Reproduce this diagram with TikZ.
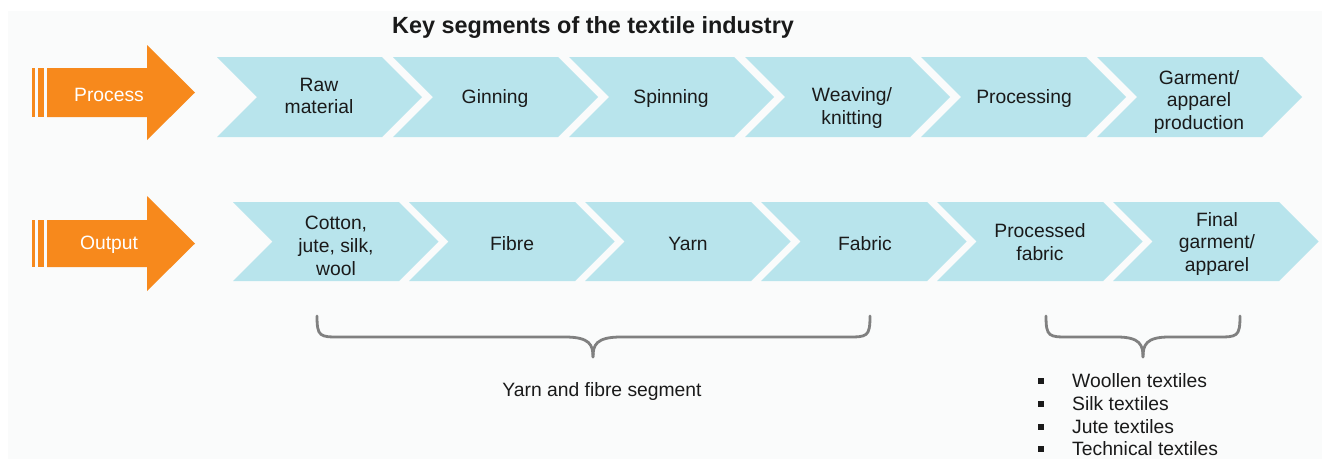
\documentclass[tikz,border=0pt]{standalone}
\usepackage{fontspec}
\setmainfont{Liberation Sans}
\definecolor{bgc}{HTML}{FAFBFB}
\definecolor{orangec}{HTML}{F7891C}
\definecolor{chevc}{HTML}{B8E4EC}
\definecolor{txtc}{HTML}{1A1A1A}
\definecolor{bracec}{HTML}{808080}
\begin{document}
\begin{tikzpicture}[x=1pt,y=-1pt,
  lbl/.style={font=\fontsize{19.3pt}{22.6pt}\selectfont, text=txtc, align=center, inner sep=0pt, yshift=-1.8pt},
  wlbl/.style={lbl, text=white},
  chevshape/.style={fill=chevc},
  arrowshape/.style={fill=orangec},
  bracestyle/.style={draw=bracec, line width=2.8pt, line cap=round},
  bullet/.style={fill=txtc}]
\useasboundingbox (0,0) rectangle (1322,459);
\fill[white] (0,0) rectangle (1322,459);
\fill[bgc] (8,11) rectangle (1322,459);

% title
\node[font=\fontsize{23.4pt}{28pt}\selectfont\bfseries, text=txtc, anchor=base, inner sep=0pt] (title) at (593,33) {Key segments of the textile industry};

% chevrons
\foreach \i in {0,...,5}{
  \pgfmathsetmacro\L{217+176*\i}
  \fill[chevshape] (\L,57) -- ++(165,0) -- ++(40,40) -- ++(-40,40) -- ++(-165,0) -- ++(40,-40) -- cycle;
  \pgfmathsetmacro\M{233+176*\i}
  \fill[chevshape] (\M,202) -- ++(166,0) -- ++(39.5,39.5) -- ++(-39.5,39.5) -- ++(-166,0) -- ++(39.5,-39.5) -- cycle;
}

% orange arrows
\fill[arrowshape] (32,68) rectangle (35,117);
\fill[arrowshape] (38,68) rectangle (44,117);
\fill[arrowshape] (47,68) -- (147,68) -- (147,45) -- (195,92.5) -- (147,140) -- (147,117) -- (47,117) -- cycle;
\fill[arrowshape] (32,220) rectangle (35,267);
\fill[arrowshape] (38,220) rectangle (44,267);
\fill[arrowshape] (47,220) -- (147,220) -- (147,196) -- (195,243.5) -- (147,291) -- (147,267) -- (47,267) -- cycle;
\node[wlbl] (proc) at (109,93) {Process};
\node[wlbl] (outp) at (109,243) {Output};

% process labels
\node[lbl] (p1) at (319,94) {Raw\\material};
\node[lbl] (p2) at (495,97) {Ginning};
\node[lbl] (p3) at (671,97) {Spinning};
\node[lbl] (p4) at (852,106) {Weaving/\\knitting};
\node[lbl] (p5) at (1024,97) {Processing};
\node[lbl] (p6) at (1199,100) {Garment/\\apparel\\production};

% output labels
\node[lbl] (o1) at (336,244) {Cotton,\\jute, silk,\\wool};
\node[lbl] (o2) at (512,242) {Fibre};
\node[lbl] (o3) at (688,242) {Yarn};
\node[lbl] (o4) at (865,242) {Fabric};
\node[lbl] (o5) at (1040,240) {Processed\\fabric};
\node[lbl] (o6) at (1217,242) {Final\\garment/\\apparel};

% braces
\draw[bracestyle] (317,316) .. controls (317,337) and (320,337) .. (340,337) -- (565,337) .. controls (590,337) and (593,345) .. (593,357);
\draw[bracestyle] (593,357) .. controls (593,345) and (596,337) .. (621,337) -- (847,337) .. controls (867,337) and (870,337) .. (870,316);
\draw[bracestyle] (1046,316) .. controls (1046,337) and (1049,337) .. (1069,337) -- (1117,337) .. controls (1140,337) and (1143,345) .. (1143,357);
\draw[bracestyle] (1143,357) .. controls (1143,345) and (1146,337) .. (1169,337) -- (1217,337) .. controls (1237,337) and (1240,337) .. (1240,316);

\node[lbl] (seg) at (602,390) {Yarn and fibre segment};

% bullet list
\foreach \y/\t/\n in {381/Woollen textiles/b1, 404/Silk textiles/b2, 427/Jute textiles/b3, 449/Technical textiles/b4}{
  \fill[bullet] (1038.3,\y-2.7) rectangle (1043.7,\y+2.7);
  \node[lbl, anchor=west, yshift=1.8pt] (\n) at (1072,\y) {\t};
}
\end{tikzpicture}
\end{document}
